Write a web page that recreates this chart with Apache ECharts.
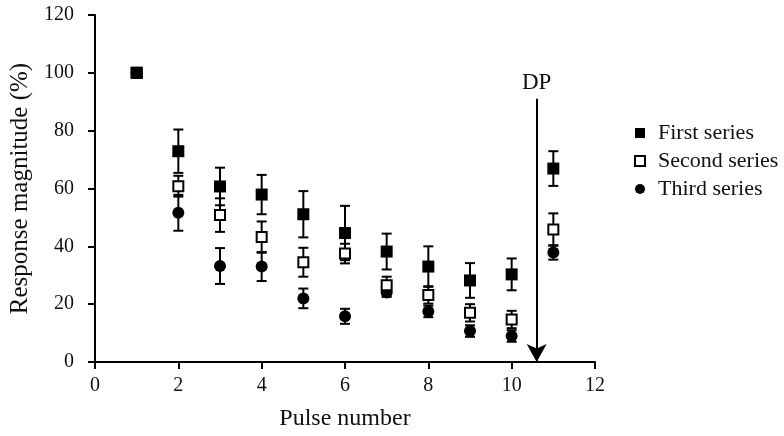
<!DOCTYPE html>
<html>
<head>
<meta charset="utf-8">
<script src="https://cdn.jsdelivr.net/npm/echarts@6/dist/echarts.min.js"></script>
<style>html,body{margin:0;padding:0;background:#fff;}#c{width:784px;height:436px;}</style>
</head>
<body>
<div id="c"></div>
<script>
const pulses = [1, 2, 3, 4, 5, 6, 7, 8, 9, 10, 11];
const firstSeries = [100, 72.9, 60.7, 57.9, 51.1, 44.6, 38.2, 33.0, 28.2, 30.3, 66.9];
const firstErr = [0, 7.5, 6.5, 6.8, 8.0, 9.4, 6.2, 7.0, 6.0, 5.5, 6.0];
const secondSeries = [100, 60.8, 50.8, 43.2, 34.5, 37.5, 26.5, 23.2, 17.0, 14.7, 45.8];
const secondErr = [0, 3.6, 5.8, 5.4, 5.0, 3.4, 3.0, 3.0, 3.0, 3.0, 5.6];
const thirdSeries = [100, 51.6, 33.2, 33.0, 22.0, 15.8, 24.0, 17.5, 10.7, 9.0, 37.9];
const thirdErr = [0, 6.2, 6.2, 5.0, 3.4, 2.6, 1.5, 2.0, 2.0, 2.0, 2.5];
const seriesNames = ['First series', 'Second series', 'Third series'];
const xTicks = [0, 2, 4, 6, 8, 10, 12];
const yTicks = [0, 20, 40, 60, 80, 100, 120];
const dpLabel = 'DP';
const dpX = 10.6;
const dpTop = 91;

const FONT = 'Liberation Serif';

function pts(vals) { return pulses.map((p, i) => [p, vals[i]]); }
function errs(vals, e) {
  return pulses.map((p, i) => [p, vals[i] - e[i], vals[i] + e[i]]).filter((d, i) => e[i] > 0);
}
function errRender(params, api) {
  const x = api.value(0), lo = api.value(1), hi = api.value(2);
  const a = api.coord([x, lo]), b = api.coord([x, hi]);
  const w = 5;
  const st = { stroke: '#000', lineWidth: 2 };
  return {
    type: 'group',
    children: [
      { type: 'line', shape: { x1: a[0], y1: a[1], x2: b[0], y2: b[1] }, style: st },
      { type: 'line', shape: { x1: a[0] - w, y1: a[1], x2: a[0] + w, y2: a[1] }, style: st },
      { type: 'line', shape: { x1: b[0] - w, y1: b[1], x2: b[0] + w, y2: b[1] }, style: st }
    ]
  };
}

const chart = echarts.init(document.getElementById('c'));
chart.setOption({
  backgroundColor: '#fff',
  animation: false,
  grid: { left: 90, right: 189, top: 15, bottom: 66, containLabel: false },
  legend: {
    orient: 'vertical', left: 629, top: 117, itemWidth: 10, itemHeight: 10, itemGap: 6,
    data: [
      { name: seriesNames[0], icon: 'rect' },
      { name: seriesNames[1], icon: 'rect' },
      { name: seriesNames[2], icon: 'circle' }
    ],
    textStyle: { fontFamily: FONT, fontSize: 22, color: '#111', padding: [0, 0, 0, 8] }
  },
  xAxis: {
    type: 'value', min: xTicks[0], max: xTicks[xTicks.length - 1], interval: 2,
    name: 'Pulse number', nameLocation: 'middle', nameGap: 45,
    nameTextStyle: { fontFamily: FONT, fontSize: 24, color: '#111' },
    axisLine: { lineStyle: { color: '#000', width: 2 } },
    axisTick: { length: 7, lineStyle: { color: '#000', width: 2 } },
    axisLabel: { fontFamily: FONT, fontSize: 20, color: '#111', margin: 14 },
    splitLine: { show: false }
  },
  yAxis: {
    type: 'value', min: yTicks[0], max: yTicks[yTicks.length - 1], interval: 20,
    name: 'Response magnitude (%)', nameLocation: 'middle', nameGap: 62,
    nameTextStyle: { fontFamily: FONT, fontSize: 25, color: '#111' },
    axisLine: { lineStyle: { color: '#000', width: 2 } },
    axisTick: { length: 7, lineStyle: { color: '#000', width: 2 } },
    axisLabel: { fontFamily: FONT, fontSize: 20, color: '#111', margin: 21 },
    splitLine: { show: false }
  },
  series: [
    { type: 'custom', name: 'e1', renderItem: errRender, data: errs(firstSeries, firstErr), z: 1, silent: true, encode: { x: 0, y: [1, 2] } },
    { type: 'custom', name: 'e2', renderItem: errRender, data: errs(secondSeries, secondErr), z: 1, silent: true, encode: { x: 0, y: [1, 2] } },
    { type: 'custom', name: 'e3', renderItem: errRender, data: errs(thirdSeries, thirdErr), z: 1, silent: true, encode: { x: 0, y: [1, 2] } },
    { type: 'scatter', name: seriesNames[0], data: pts(firstSeries), symbol: 'rect', symbolSize: 12, z: 5,
      itemStyle: { color: '#000', opacity: 1 },
      markLine: {
        silent: true, symbol: ['none', 'arrow'], symbolSize: [15, 18],
        lineStyle: { color: '#000', width: 2, type: 'solid' },
        label: { show: false },
        data: [[
          { coord: [dpX, dpTop], label: { show: true, position: 'start', formatter: dpLabel, fontFamily: FONT, fontSize: 23, color: '#111', distance: 4 } },
          { coord: [dpX, 0] }
        ]]
      }
    },
    { type: 'scatter', name: seriesNames[1], data: pts(secondSeries), symbol: 'rect', symbolSize: 10, z: 4,
      itemStyle: { color: '#fff', borderColor: '#000', borderWidth: 2, opacity: 1 } },
    { type: 'scatter', name: seriesNames[2], data: pts(thirdSeries), symbol: 'circle', symbolSize: 12, z: 3,
      itemStyle: { color: '#000', opacity: 1 } }
  ]
});
</script>
</body>
</html>
